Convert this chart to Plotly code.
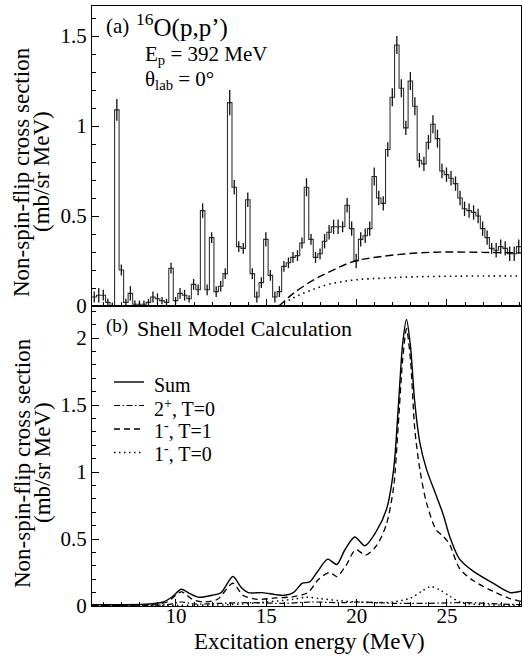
import numpy as np
import plotly.graph_objects as go
from plotly.subplots import make_subplots

# ---------------- data ----------------
# (a) measured non-spin-flip spectrum, 0.25 MeV bins starting at 5.35 MeV
bin_start = 5.35
bin_width = 0.25
spectrum = [
    0.05, 0.06, 0.06, 0.02, 0.00, 1.09, 0.20, 0.02, 0.07, 0.01,
    0.01, 0.01, 0.02, 0.05, 0.04, 0.03, 0.02, 0.21, 0.03, 0.07,
    0.06, 0.04, 0.12, 0.09, 0.53, 0.09, 0.38, 0.08, 0.11, 0.18,
    1.13, 0.66, 0.33, 0.32, 0.59, 0.18, 0.05, 0.13, 0.37, 0.17,
    0.05, 0.08, 0.22, 0.24, 0.27, 0.28, 0.35, 0.66, 0.37, 0.27,
    0.29, 0.36, 0.41, 0.44, 0.44, 0.44, 0.56, 0.43, 0.25, 0.37,
    0.39, 0.43, 0.72, 0.60, 0.57, 0.87, 1.16, 1.45, 1.21, 0.99,
    1.25, 1.11, 0.81, 0.79, 0.91, 1.01, 0.93, 0.75, 0.73, 0.71,
    0.68, 0.60, 0.54, 0.53, 0.52, 0.50, 0.43, 0.38, 0.32, 0.31,
    0.33, 0.32, 0.29, 0.29, 0.33,
]
spectrum_err = [
    0.03, 0.04, 0.03, 0.02, 0.02, 0.06, 0.03, 0.02, 0.04, 0.02,
    0.02, 0.02, 0.02, 0.03, 0.03, 0.02, 0.02, 0.03, 0.02, 0.03,
    0.03, 0.02, 0.03, 0.03, 0.04, 0.03, 0.03, 0.03, 0.03, 0.03,
    0.07, 0.04, 0.03, 0.03, 0.04, 0.03, 0.03, 0.03, 0.04, 0.03,
    0.03, 0.03, 0.03, 0.03, 0.03, 0.03, 0.03, 0.05, 0.03, 0.03,
    0.03, 0.04, 0.04, 0.04, 0.04, 0.03, 0.04, 0.04, 0.04, 0.04,
    0.04, 0.04, 0.05, 0.04, 0.04, 0.04, 0.05, 0.05, 0.05, 0.04,
    0.05, 0.05, 0.04, 0.04, 0.04, 0.05, 0.05, 0.04, 0.04, 0.04,
    0.04, 0.04, 0.04, 0.04, 0.04, 0.04, 0.04, 0.04, 0.03, 0.04,
    0.04, 0.04, 0.04, 0.04, 0.04,
]

# (a) background / quasi-free curves
bg_dash_E = [15.7, 16.5, 17.6, 18.7, 19.9, 21.3, 23.1, 25.0, 27.0, 29.1]
bg_dash_v = [0.0, 0.07, 0.144, 0.20, 0.25, 0.274, 0.293, 0.30, 0.298, 0.295]
bg_dot_E = [15.7, 16.5, 17.4, 18.5, 19.9, 21.5, 23.1, 25.0, 27.0, 29.1]
bg_dot_v = [0.0, 0.045, 0.085, 0.122, 0.145, 0.155, 0.162, 0.165, 0.167, 0.167]

# (b) shell model calculation
sum_E = [5.35, 7.0, 8.5, 9.3, 9.8, 10.3, 10.8, 11.3, 12.0, 12.5, 13.15, 13.6,
         14.0, 14.8, 15.5, 16.0, 16.5, 17.0, 17.4, 17.8, 18.4, 18.9, 19.35,
         19.9, 20.45, 21.1, 21.65, 22.05, 22.3, 22.55, 22.76, 22.98, 23.22,
         23.5, 23.87, 24.42, 24.8, 25.15, 25.7, 26.45, 27.55, 28.5, 29.1]
sum_v = [0.01, 0.01, 0.015, 0.03, 0.07, 0.125, 0.09, 0.065, 0.08, 0.10, 0.22,
         0.14, 0.10, 0.10, 0.085, 0.08, 0.10, 0.17, 0.18, 0.25, 0.35, 0.31,
         0.42, 0.515, 0.45, 0.56, 0.72, 1.02, 1.47, 1.96, 2.14, 1.94, 1.52,
         1.22, 1.02, 0.82, 0.68, 0.52, 0.35, 0.26, 0.17, 0.10, 0.11]

t1_E = [5.35, 8.5, 9.5, 10.3, 10.9, 11.5, 12.3, 13.15, 13.7, 14.5, 15.5,
        16.5, 17.3, 17.9, 18.5, 18.9, 19.4, 19.95, 20.5, 21.1, 21.65, 22.05,
        22.3, 22.55, 22.76, 22.98, 23.22, 23.5, 23.87, 24.4, 24.8, 25.15,
        25.7, 26.45, 27.55, 28.5, 29.1]
t1_v = [0.005, 0.01, 0.03, 0.105, 0.05, 0.03, 0.05, 0.17, 0.08, 0.05, 0.06,
        0.07, 0.10, 0.20, 0.25, 0.22, 0.30, 0.42, 0.38, 0.45, 0.61, 0.89,
        1.34, 1.84, 2.07, 1.84, 1.32, 1.02, 0.77, 0.57, 0.52, 0.46, 0.28,
        0.19, 0.11, 0.055, 0.035]

t0_E = [5.35, 10.0, 13.0, 15.0, 16.5, 17.2, 18.0, 19.0, 20.0, 21.0, 22.0,
        23.0, 23.6, 24.1, 24.6, 25.2, 25.8, 27.0, 29.1]
t0_v = [0.003, 0.005, 0.01, 0.03, 0.05, 0.065, 0.055, 0.04, 0.03, 0.025,
        0.03, 0.06, 0.11, 0.145, 0.12, 0.07, 0.025, 0.01, 0.005]

q2_E = [5.35, 9.5, 10.3, 11.0, 12.5, 14.0, 16.0, 17.5, 19.0, 20.3, 22.0,
        24.0, 26.0, 28.0, 29.1]
q2_v = [0.005, 0.01, 0.03, 0.015, 0.02, 0.025, 0.02, 0.03, 0.025, 0.03,
        0.02, 0.02, 0.025, 0.015, 0.01]

legend_names = ["Sum", "2<sup>+</sup>, T=0", "1<sup>-</sup>, T=1", "1<sup>-</sup>, T=0"]

# ---------------- figure ----------------
SERIF = "Liberation Serif, Times New Roman, DejaVu Serif, serif"
W, H = 522, 660
ML, MR, MT, MB = 92, 1, 6, 54
PW, PH = W - ML - MR, H - MT - MB


def fx(px):
    return (px - ML) / PW


def fy(py):
    return 1 - (py - MT) / PH


fig = make_subplots(rows=2, cols=1, shared_xaxes=True, vertical_spacing=0)

vals = np.array(spectrum)
edges = bin_start + bin_width * np.arange(len(vals) + 1)
centers = edges[:-1] + bin_width / 2

# histogram outline
fig.add_trace(go.Scatter(
    x=edges, y=np.append(vals, vals[-1]), mode="lines", line_shape="hv",
    line=dict(color="#333333", width=1.1), showlegend=False, hoverinfo="skip"),
    row=1, col=1)
# statistical error bars
fig.add_trace(go.Scatter(
    x=centers, y=vals, mode="markers", marker=dict(size=0.1, color="rgba(0,0,0,0)"),
    error_y=dict(type="data", array=spectrum_err, visible=True, width=0,
                 thickness=1.3, color="#111111"),
    showlegend=False, hoverinfo="skip"), row=1, col=1)
fig.add_trace(go.Scatter(
    x=bg_dash_E, y=bg_dash_v, mode="lines", line_shape="spline",
    line=dict(color="black", width=1.4, dash="8px,4px"), showlegend=False),
    row=1, col=1)
fig.add_trace(go.Scatter(
    x=bg_dot_E, y=bg_dot_v, mode="lines", line_shape="spline",
    line=dict(color="black", width=1.6, dash="1.5px,4px"), showlegend=False),
    row=1, col=1)

dashes = ["solid", "6px,2.5px,1.5px,2.5px", "6px,4px", "1.5px,3.5px"]
curves = [(sum_E, sum_v), (q2_E, q2_v), (t1_E, t1_v), (t0_E, t0_v)]
widths = [1.4, 1.2, 1.3, 1.5]
for (ce, cv), dsh, lw in zip(curves, dashes, widths):
    fig.add_trace(go.Scatter(
        x=ce, y=cv, mode="lines", line_shape="spline",
        line=dict(color="black", width=lw, dash=dsh, smoothing=0.8),
        showlegend=False), row=2, col=1)

axis_common = dict(
    showline=True, linecolor="black", linewidth=1.3, mirror=True,
    ticks="inside", tickcolor="black", tickwidth=1.2, ticklen=7,
    showgrid=False, zeroline=False,
    tickfont=dict(family=SERIF, size=21, color="black"),
)
fig.update_xaxes(**axis_common, range=[5.35, 29.1], dtick=5, tick0=0,
                 minor=dict(dtick=1, ticks="inside", ticklen=4,
                            tickcolor="black", tickwidth=1))
fig.update_xaxes(showticklabels=False, row=1, col=1)
fig.update_xaxes(ticklabelstandoff=-9, row=2, col=1)
fig.update_yaxes(**axis_common, dtick=0.5, tick0=0,
                 minor=dict(dtick=0.1, ticks="inside", ticklen=4,
                            tickcolor="black", tickwidth=1))
fig.update_yaxes(range=[0, 1.667], row=1, col=1)
fig.update_yaxes(range=[0, 2.24], row=2, col=1)
fig.update_layout(yaxis=dict(domain=[0.5, 1.0]), yaxis2=dict(domain=[0.0, 0.5]))

ann = []


def text(px, py, s, size, **kw):
    d = dict(x=fx(px), y=fy(py), xref="paper", yref="paper", text=s,
             showarrow=False, xanchor="left", yanchor="middle",
             font=dict(family=SERIF, size=size, color="black"))
    d.update(kw)
    ann.append(d)


# panel labels
text(104, 26, "(a)", 21)
text(134, 26, "<sup>16</sup>O(p,p’)", 25)
text(143, 55, "E<sub>p</sub> = 392 MeV", 21)
text(143, 80, "θ<sub>lab</sub> = 0°", 21)
text(104, 326, "(b)", 19)
text(135, 328, "Shell Model Calculation", 22)

# axis titles
for yc in (172, 463):
    text(22, yc, "Non-spin-flip cross section", 23, textangle=-90, xanchor="center")
    text(42, yc, "(mb/sr MeV)", 23, textangle=-90, xanchor="center")
text(309, 641, "Excitation energy (MeV)", 23, xanchor="center")

# legend for panel (b)
row_y = [384.5, 407.5, 430.2, 452.8]
line_y = [382, 405.5, 429, 452.5]
shapes = []
for name, ly, ty, dsh, lw in zip(legend_names, line_y, row_y, dashes, widths):
    shapes.append(dict(type="line", xref="paper", yref="paper",
                       x0=fx(114), x1=fx(144), y0=fy(ly), y1=fy(ly),
                       line=dict(color="black", width=lw, dash=dsh)))
    text(152, ty, name, 20)

fig.update_layout(
    width=W, height=H, margin=dict(l=ML, r=MR, t=MT, b=MB, autoexpand=False),
    paper_bgcolor="white", plot_bgcolor="white",
    font=dict(family=SERIF, color="black"),
    annotations=ann, shapes=shapes, showlegend=False,
)

fig.write_html("out.html")
